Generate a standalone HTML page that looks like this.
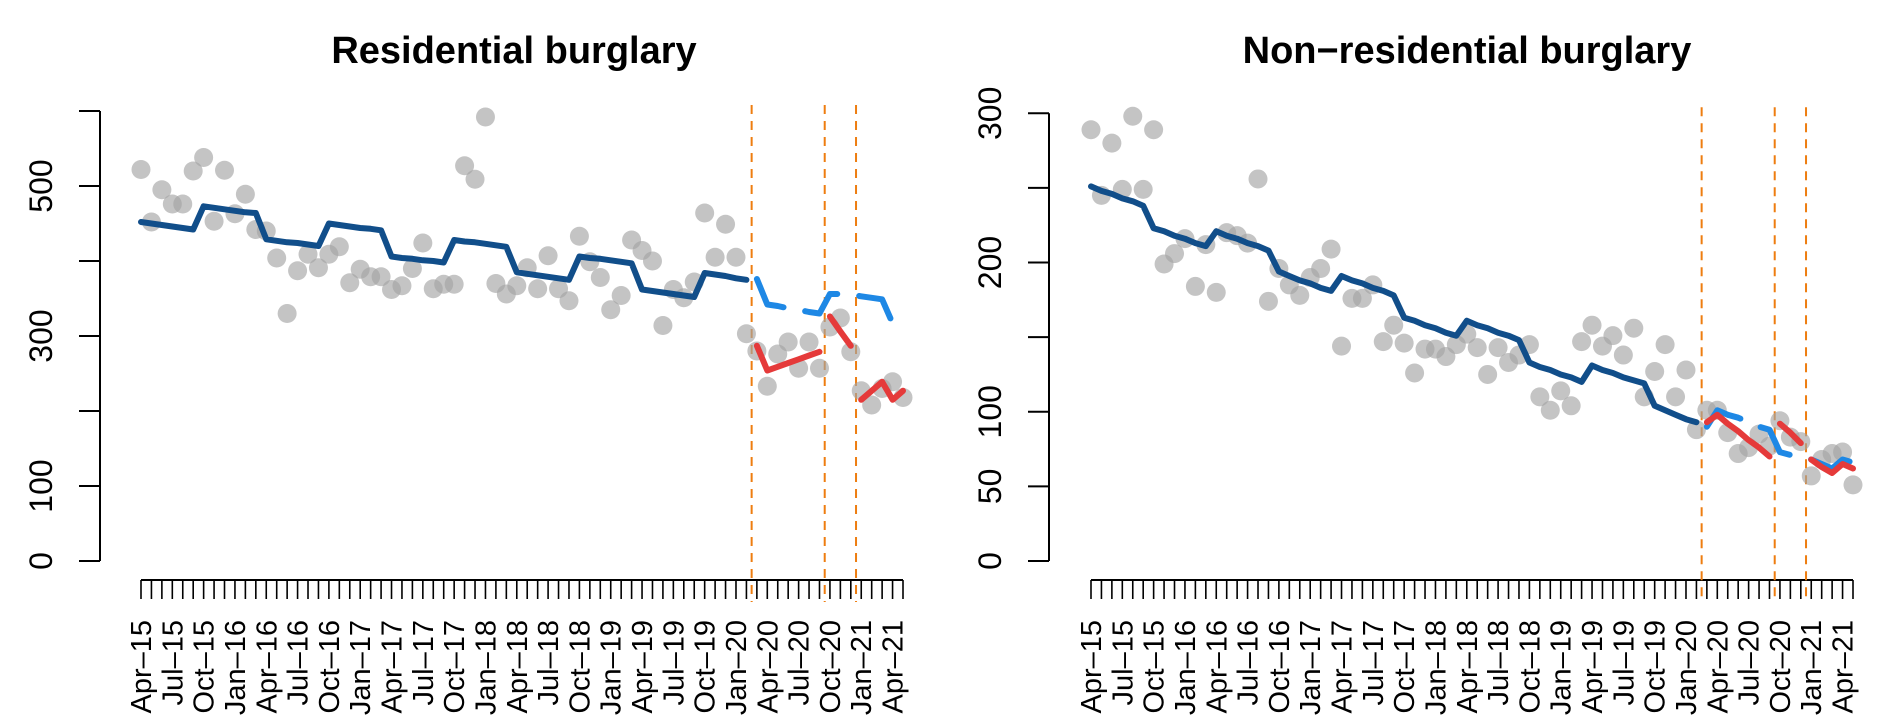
<!DOCTYPE html>
<html><head><meta charset="utf-8"><style>
html,body{margin:0;padding:0;background:#fff}
svg{display:block;font-family:"Liberation Sans",Arial,sans-serif}
</style></head><body>
<svg id="chart" width="1898" height="720" viewBox="0 0 1898 720" xmlns="http://www.w3.org/2000/svg"></svg>
<script>
// ---------- DATA ----------
const monthLabels = ["Apr–15","Jul–15","Oct–15","Jan–16","Apr–16","Jul–16","Oct–16","Jan–17","Apr–17","Jul–17","Oct–17","Jan–18","Apr–18","Jul–18","Oct–18","Jan–19","Apr–19","Jul–19","Oct–19","Jan–20","Apr–20","Jul–20","Oct–20","Jan–21","Apr–21"];
const breakIdx = [58.5, 65.5, 68.5];

const resObserved = [522,452,495,476,476,520,538,453,521,463,489,442,440,404,330,387,409,391,409,419,371,389,379,379,362,367,390,424,363,369,369,527,509,592,370,356,367,391,363,407,363,347,433,399,378,335,354,428,414,400,314,362,351,372,464,405,449,405,303,280,233,276,292,257,292,257,312,324,279,227,208,230,239,218];
const resFitted = [452,450,448,446,444,442,473,471,469,467,465,464,429,427,425,424,422,420,450,448,446,444,443,441,406,404,403,401,400,398,428,426,425,423,421,419,385,383,381,379,377,375,406,404,403,401,399,397,362,360,358,356,354,352,384,382,380,377,375];
const resCounterfactual = [376,342,340,337,335,332,330,356,356,355,353,351,349,317,314];
const resObs1 = [287,254,259,264,269,274,279];
const resObs2 = [326,306,287];
const resObs3 = [215,227,239,215,227];
const resTicks = [0,100,200,300,400,500,600];
const resTickLabels = ["0","100","","300","","500",""];

const nonObserved = [289,245,280,249,298,249,289,199,206,216,184,212,180,220,218,213,256,174,196,185,178,190,196,209,144,176,176,185,147,158,146,126,142,142,137,145,152,143,125,143,133,138,145,110,101,114,104,147,158,144,151,138,156,110,127,145,110,128,88,101,101,86,72,76,85,77,94,83,80,57,68,72,73,51];
const nonFitted = [251,248,246,243,241,238,223,221,218,216,213,211,221,218,216,213,211,208,194,191,188,186,183,181,191,188,186,183,181,178,163,161,158,156,153,151,161,158,156,153,151,148,133,130,128,125,123,120,131,128,126,123,121,119,104,101,98,95,93];
const nonCounterfactual = [90,101,98,96,93,90,88,73,71,70,68,65,62,68,66];
const nonObs1 = [93,98,92,87,81,76,70];
const nonObs2 = [92,86,79];
const nonObs3 = [68,63,59,65,62];
const nonTicks = [0,50,100,150,200,250,300];
const nonTickLabels = ["0","50","100","","200","","300"];

// ---------- DRAW ----------
const NS = "http://www.w3.org/2000/svg";
const svg = document.getElementById("chart");
function mk(tag, attrs, parent){const e=document.createElementNS(NS,tag);for(const k in attrs)e.setAttribute(k,attrs[k]);(parent||svg).appendChild(e);return e;}

function panel(cfg){
  const g = mk("g",{});
  
  
  const n = cfg.observed.length;
  const x = i => cfg.x0 + (cfg.x1 - cfg.x0) * i / (n - 1);
  const y = v => cfg.y0 - (cfg.y0 - cfg.yTop) * v / cfg.vmax;

  const t = mk("text",{x:cfg.titleX,y:63,"text-anchor":"middle","font-size":38,"font-weight":"bold",fill:"#000"},g);
  t.textContent = cfg.title;
  
  

  // y axis
  const ya = mk("g",{},g);
  
  
  mk("line",{x1:cfg.axisX,x2:cfg.axisX,y1:y(0),y2:y(cfg.vmax),stroke:"#000","stroke-width":2},ya);
  cfg.ticks.forEach((v,k)=>{
    mk("line",{x1:cfg.axisX-21,x2:cfg.axisX,y1:y(v),y2:y(v),stroke:"#000","stroke-width":2},ya);
    if(cfg.tickLabels[k]){
      const tl = mk("text",{x:0,y:0,"text-anchor":"middle","font-size":32,fill:"#000",transform:`translate(${cfg.axisX-48},${y(v)}) rotate(-90)`},ya);
      tl.textContent = cfg.tickLabels[k];
      
      
    }
  });

  // x axis
  const xa = mk("g",{},g);
  
  
  mk("line",{x1:x(0),x2:x(n-1),y1:580,y2:580,stroke:"#000","stroke-width":2},xa);
  for(let i=0;i<n;i++) mk("line",{x1:x(i),x2:x(i),y1:580,y2:599,stroke:"#000","stroke-width":1.6},xa);
  monthLabels.forEach((lab,k)=>{
    const tl = mk("text",{x:0,y:0,"text-anchor":"end","font-size":29,fill:"#000",transform:`translate(${x(k*3)+10},620) rotate(-90)`},xa);
    tl.textContent = lab;
    
    
  });

  // break lines
  breakIdx.forEach(b=>{
    const l = mk("line",{x1:x(b),x2:x(b),y1:y(cfg.vmax)-6,y2:602,stroke:"#ee7d10","stroke-width":2,"stroke-dasharray":"9,7"},g);
    
    
  });

  // points
  const pg = mk("g",{},g);
  
  
  cfg.observed.forEach((v,i)=>{
    const c = mk("circle",{cx:x(i),cy:y(v),r:9.5,fill:"rgba(165,165,165,0.65)"},pg);
    
    
  });

  function line(vals, start, color, name, dash){
    const d = vals.map((v,k)=>(k?"L":"M")+x(start+k).toFixed(1)+","+y(v).toFixed(1)).join("");
    const p = mk("path",{d:d,fill:"none",stroke:color,"stroke-width":6,"stroke-linejoin":"round","stroke-linecap":"round"},g);
    if(dash) p.setAttribute("stroke-dasharray",dash);
    
    
  }
  line(cfg.fitted, 0, "#114e8a", "fitted-trend-line");
  line(cfg.cf, 59, "#1e88e5", "counterfactual-line", "44,22");
  line(cfg.o1, 59, "#e53a3a", "lockdown1-fit-line");
  line(cfg.o2, 66, "#e53a3a", "lockdown2-fit-line");
  line(cfg.o3, 69, "#e53a3a", "lockdown3-fit-line");
}

panel({name:"residential-panel",title:"Residential burglary",titleX:514,axisX:100,x0:141,x1:903,y0:561,yTop:111,vmax:600,
  ticks:resTicks,tickLabels:resTickLabels,observed:resObserved,fitted:resFitted,cf:resCounterfactual,o1:resObs1,o2:resObs2,o3:resObs3});
panel({name:"non-residential-panel",title:"Non−residential burglary",titleX:1467,axisX:1049,x0:1091,x1:1853,y0:561,yTop:113.3,vmax:300,
  ticks:nonTicks,tickLabels:nonTickLabels,observed:nonObserved,fitted:nonFitted,cf:nonCounterfactual,o1:nonObs1,o2:nonObs2,o3:nonObs3});
</script>
</body></html>
